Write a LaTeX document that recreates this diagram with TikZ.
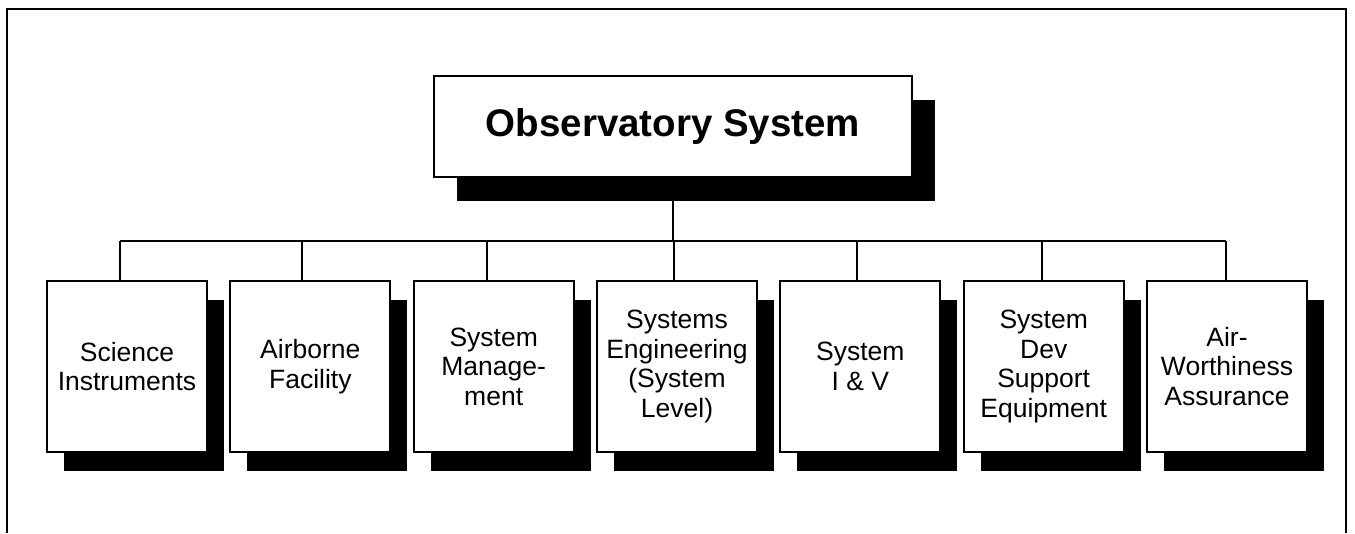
\documentclass[tikz,border=0pt]{standalone}
\usepackage{fontspec}
\setmainfont{Liberation Sans}
\usetikzlibrary{shadows}
\tikzset{
  leafbox/.style={draw=black, line width=2pt, fill=white, minimum width=160pt, minimum height=171pt,
    inner sep=0pt, align=center, font=\fontsize{26.5}{29.5}\selectfont,
    drop shadow={shadow xshift=17pt, shadow yshift=-19pt, fill=black, opacity=1}},
  rootbox/.style={draw=black, line width=2pt, fill=white, minimum width=478pt, minimum height=101pt,
    inner sep=0pt, align=center, font=\fontsize{38.5}{42}\selectfont\bfseries,
    drop shadow={shadow xshift=23pt, shadow yshift=-24pt, fill=black, opacity=1}},
  conn/.style={draw=black, line width=2pt},
  frameline/.style={draw=black, line width=2.5pt}
}
\begin{document}
\begin{tikzpicture}[x=1pt, y=-1pt]
\useasboundingbox (0,0) rectangle (1355,533);
% frame (open at bottom)
\draw[frameline] (7,533) -- (7,9) -- (1346,9) -- (1346,533);
% root
\node[rootbox] (root) at (673,126.5) {Observatory System};
% leaves
\node[leafbox] (b1) at (127,366.5) {Science\\Instruments};
\node[leafbox] (b2) at (310.3,366.5) {Airborne\\Facility};
\node[leafbox] (b3) at (493.7,366.5) {System\\Manage-\\ment};
\node[leafbox] (b4) at (677,366.5) {Systems\\Engineering\\(System\\Level)};
\node[leafbox] (b5) at (860.3,366.5) {System\\I \& V};
\node[leafbox] (b6) at (1043.7,366.5) {System\\Dev\\Support\\Equipment};
\node[leafbox] (b7) at (1227,366.5) {Air-\\Worthiness\\Assurance};
% connectors
\coordinate (barL) at (120,241);
\coordinate (barR) at (1226,241);
\draw[conn] (barL) -- (barR);
\draw[conn] (root.south) -- (root.south |- barL);
\draw[conn] ([xshift=-7pt]b1.north) -- ([xshift=-7pt]b1.north |- barL);
\draw[conn] ([xshift=-8pt]b2.north) -- ([xshift=-8pt]b2.north |- barL);
\draw[conn] ([xshift=-7pt]b3.north) -- ([xshift=-7pt]b3.north |- barL);
\draw[conn] ([xshift=-3pt]b4.north) -- ([xshift=-3pt]b4.north |- barL);
\draw[conn] ([xshift=-3pt]b5.north) -- ([xshift=-3pt]b5.north |- barL);
\draw[conn] ([xshift=-2pt]b6.north) -- ([xshift=-2pt]b6.north |- barL);
\draw[conn] ([xshift=-1pt]b7.north) -- ([xshift=-1pt]b7.north |- barL);
\end{tikzpicture}
\end{document}
